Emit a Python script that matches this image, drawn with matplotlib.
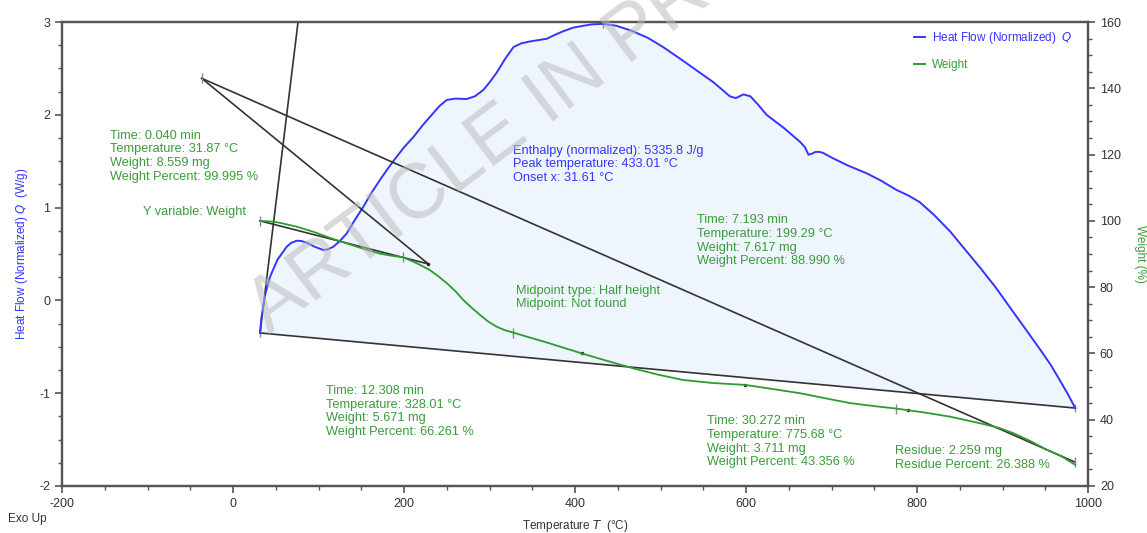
import matplotlib.pyplot as plt
from matplotlib.ticker import MultipleLocator
from matplotlib.lines import Line2D

plt.rcParams['font.family'] = ['Liberation Sans', 'DejaVu Sans']
plt.rcParams['axes.unicode_minus'] = False

# heat flow (normalized), W/g
temp_hf = [31.6, 33, 34.7, 38, 43.3, 52, 62.8, 68, 74.5, 80, 86.2, 95, 105.6, 111, 117.3, 125,
           133, 142, 152.4, 162, 171.9, 181, 191.5, 200, 210.9, 222, 234.3, 242, 250, 260,
           273, 283, 293, 300, 308, 318, 328, 337, 347, 357, 367, 376, 386, 398, 410, 420,
           433, 448, 465, 485, 503, 522, 542, 562, 581, 588, 597, 605, 614, 624, 644, 663,
           669, 673, 677, 681, 686, 690, 702, 720, 741, 758, 776, 790, 803, 820, 839, 856,
           874, 892, 909, 927, 944, 956, 967, 977, 985]
heat_flow = [-0.351, -0.2, -0.10, 0.08, 0.255, 0.44, 0.579, 0.62, 0.643, 0.64, 0.622, 0.58,
             0.543, 0.55, 0.579, 0.64, 0.723, 0.86, 1.01, 1.16, 1.30, 1.42, 1.55, 1.65, 1.76,
             1.89, 2.02, 2.10, 2.16, 2.175, 2.17, 2.20, 2.27, 2.35, 2.45, 2.60, 2.73, 2.77,
             2.79, 2.805, 2.82, 2.86, 2.90, 2.94, 2.96, 2.975, 2.98, 2.96, 2.91, 2.83, 2.73,
             2.61, 2.48, 2.35, 2.20, 2.18, 2.22, 2.20, 2.11, 2.00, 1.86, 1.71, 1.65, 1.57,
             1.58, 1.60, 1.60, 1.59, 1.53, 1.45, 1.37, 1.29, 1.19, 1.13, 1.06, 0.92, 0.74,
             0.55, 0.35, 0.14, -0.08, -0.31, -0.53, -0.69, -0.86, -1.02, -1.16]

# weight, %
temp_wt = [31.87, 45, 55, 75, 94, 113, 133, 152, 172, 185, 199.29, 215, 230, 240, 250, 260,
           269, 279, 289, 298, 308, 318, 328.01, 347, 367, 388, 408, 438, 468, 497, 526, 560,
           599, 630, 663, 692, 722, 750, 775.68, 808, 839, 874, 895, 913, 933, 952, 970, 985]
weight_pct = [99.995, 99.8, 99.4, 98.2, 96.7, 94.9, 93.2, 91.6, 90.1, 89.5, 88.99, 87.2, 85.2,
              83.3, 81.2, 78.8, 76.2, 73.8, 71.6, 69.7, 68.1, 67.0, 66.261, 64.8, 63.3, 61.6,
              60.0, 57.7, 55.5, 53.6, 52.0, 51.1, 50.5, 49.3, 48.0, 46.5, 45.0, 44.1, 43.356,
              42.2, 40.9, 38.9, 37.6, 35.9, 33.5, 30.9, 28.8, 26.388]

# analysis construction lines
onset_line_t = [31.6, 76.0]
onset_line_q = [-0.351, 3.0]
wt_long_t = [-36.6, 984.8]
wt_long_w = [143.0, 27.2]
wt_tan_t = [-36.6, 228.4, 31.6]
wt_tan_w = [143.0, 87.0, 100.0]
wt_marks_t = [-36.6, 31.87, 199.29, 328.01, 775.68, 984.8]
wt_marks_w = [143.0, 99.995, 88.99, 66.261, 43.356, 27.2]
wt_dots_t = [228.4, 408, 599, 790]
wt_dots_w = [87.0, 60.0, 50.5, 42.9]

BLUE = '#3535ff'
GREEN = '#2f9a2f'
TGREEN = '#3a9c3a'
GRAY = '#333333'

fig = plt.figure(figsize=(11.47, 5.33), dpi=100)
ax = fig.add_axes([0.0541, 0.0882, 0.8945, 0.8705])
ax2 = ax.twinx()

ax.fill(temp_hf, heat_flow, color='#eef5fd', zorder=1)
ax.plot(temp_hf, heat_flow, color=BLUE, lw=1.4, zorder=3)
ax.plot([temp_hf[0], temp_hf[-1]], [heat_flow[0], heat_flow[-1]], color=GRAY, lw=1.2, zorder=2)
ax.plot(onset_line_t, onset_line_q, color=GRAY, lw=1.2, zorder=2)
ax.plot([31.6, 433, 985], [-0.351, 2.98, -1.16], ls='none', marker='|', ms=6, color='#888888')

ax2.plot(temp_wt, weight_pct, color=GREEN, lw=1.3, zorder=3)
ax2.plot(wt_long_t, wt_long_w, color=GRAY, lw=1.2, zorder=2)
ax2.plot(wt_tan_t, wt_tan_w, color=GRAY, lw=1.2, zorder=2)
ax2.plot(wt_marks_t, wt_marks_w, ls='none', marker='|', ms=7, color='#888888')
ax2.plot(wt_dots_t, wt_dots_w, ls='none', marker='o', ms=1.5, color='#222222')

ax.set_xlim(-200, 1000)
ax.set_ylim(-2, 3)
ax2.set_ylim(20, 160)

ax.xaxis.set_major_locator(MultipleLocator(200))
ax.xaxis.set_minor_locator(MultipleLocator(50))
ax.yaxis.set_major_locator(MultipleLocator(1))
ax.yaxis.set_minor_locator(MultipleLocator(0.25))
ax2.yaxis.set_major_locator(MultipleLocator(20))
ax2.yaxis.set_minor_locator(MultipleLocator(5))

for a in (ax, ax2):
    for s in a.spines.values():
        s.set_color('#555555')
        s.set_linewidth(1.6)
    a.tick_params(which='major', direction='out', length=5, width=1.2, color='#555555',
                  labelsize=9, labelcolor='#333333')
    a.tick_params(which='minor', direction='out', length=3, width=1.0, color='#555555')

ax.set_ylabel('Heat Flow (Normalized) $Q$  (W/g)', color=BLUE, fontsize=8.5, labelpad=7)
ax2.set_ylabel('Weight (%)', color=TGREEN, fontsize=8.5, rotation=270, labelpad=18)
ax.set_xlabel('Temperature $T$  (°C)', color='#333333', fontsize=8.5, labelpad=6)
fig.text(0.007, 0.021, 'Exo Up', fontsize=8.5, color='#333333')

fs = 9.2
ax.text(-143.9, 1.84, 'Time: 0.040 min\nTemperature: 31.87 °C\nWeight: 8.559 mg\nWeight Percent: 99.995 %',
        color=TGREEN, fontsize=fs, va='top')
ax.text(15.2, 0.95, 'Y variable: Weight', color=TGREEN, fontsize=fs, ha='right', va='center')
ax.text(327.5, 1.68, 'Enthalpy (normalized): 5335.8 J/g\nPeak temperature: 433.01 °C\nOnset x: 31.61 °C',
        color=BLUE, fontsize=fs, va='top')
ax.text(542.7, 0.93, 'Time: 7.193 min\nTemperature: 199.29 °C\nWeight: 7.617 mg\nWeight Percent: 88.990 %',
        color=TGREEN, fontsize=fs, va='top')
ax.text(331, 0.17, 'Midpoint type: Half height\nMidpoint: Not found', color=TGREEN, fontsize=fs, va='top')
ax.text(108.8, -0.91, 'Time: 12.308 min\nTemperature: 328.01 °C\nWeight: 5.671 mg\nWeight Percent: 66.261 %',
        color=TGREEN, fontsize=fs, va='top')
ax.text(554.4, -1.235, 'Time: 30.272 min\nTemperature: 775.68 °C\nWeight: 3.711 mg\nWeight Percent: 43.356 %',
        color=TGREEN, fontsize=fs, va='top')
ax.text(774.3, -1.56, 'Residue: 2.259 mg\nResidue Percent: 26.388 %', color=TGREEN, fontsize=fs, va='top')

handles = [Line2D([0], [0], color=BLUE, lw=1.4), Line2D([0], [0], color=GREEN, lw=1.4)]
leg = ax2.legend(handles, ['Heat Flow (Normalized)  $Q$', 'Weight'], loc='upper left',
                 bbox_to_anchor=(0.825, 0.995), frameon=False, fontsize=8.5,
                 handlelength=0.9, handletextpad=0.6, labelspacing=1.1, borderpad=0)
for t, c in zip(leg.get_texts(), [BLUE, TGREEN]):
    t.set_color(c)

# watermark (cut off at the top edge, as in the source)
ax2.text(42, -0.37, 'ARTICLE IN PRESS', transform=ax.transData, fontsize=56, color='#bbbbbb',
         alpha=0.55, rotation=37, rotation_mode='anchor', ha='left', va='baseline',
         zorder=10, clip_on=False)

fig.savefig('out.png', dpi=100)
